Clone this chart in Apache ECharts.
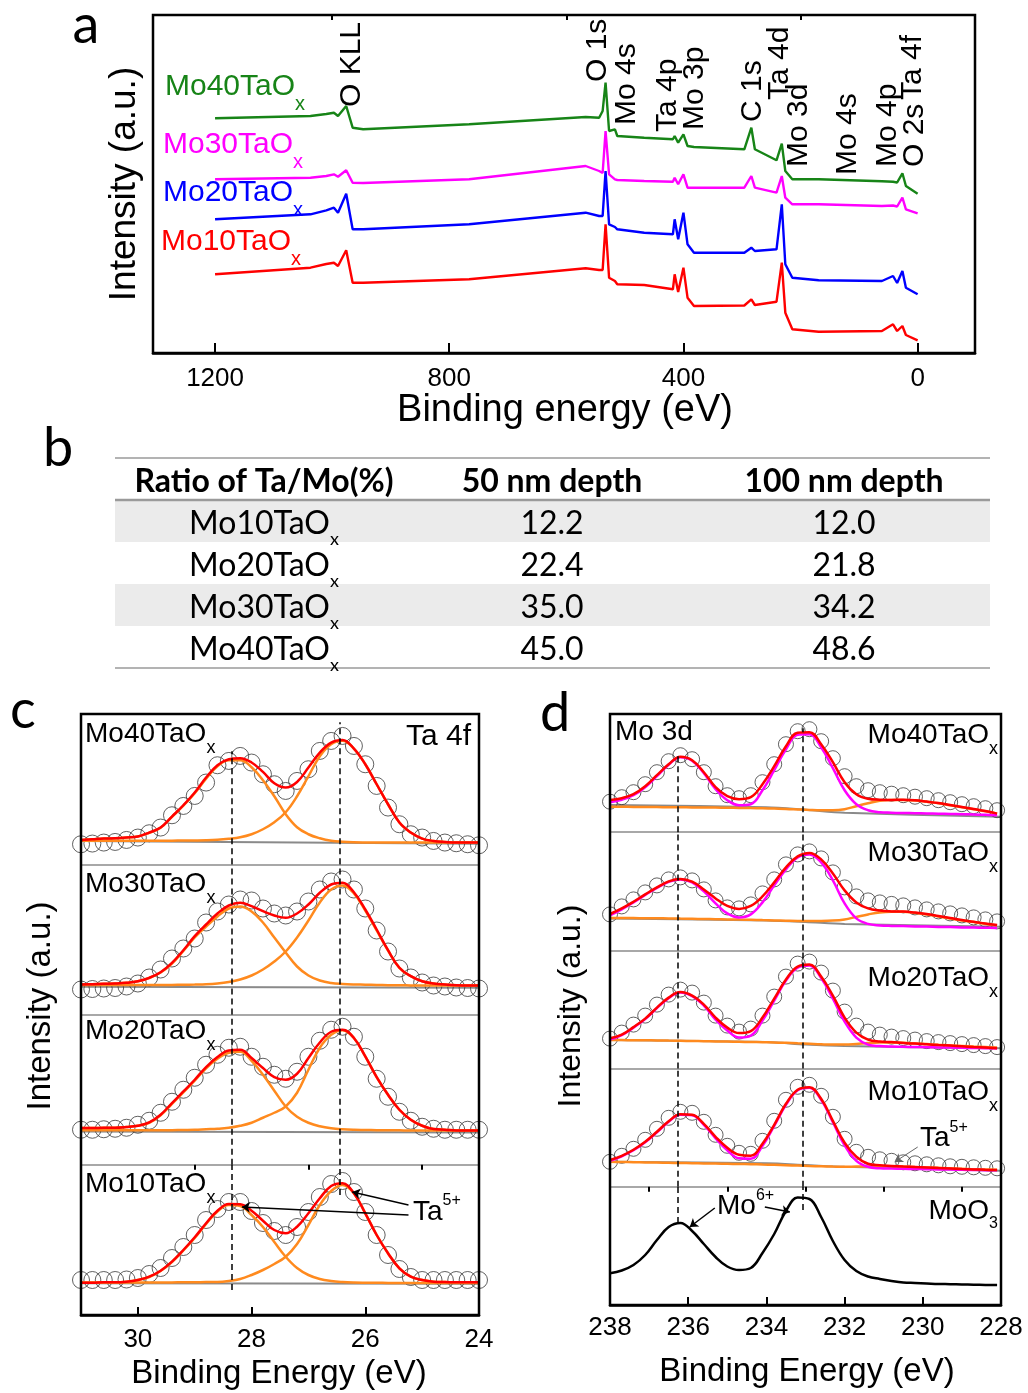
<!DOCTYPE html>
<html><head><meta charset="utf-8">
<script src="https://cdn.jsdelivr.net/npm/echarts/dist/echarts.min.js"></script>
<style>html,body{margin:0;padding:0;background:#fff}#chart{width:1028px;height:1393px}</style>
</head><body><div id="chart"></div>
<script>
// ---------------- DATA ----------------
// Panel a: XPS survey spectra (binding energy in eV, intensity in arbitrary units)
const surveyEnergy = [1200,1037,1010,997,990,976,965,947,766,567,544,538,533,527,517,513,467,418,415,409,400,393,382,296,284,278,241,232,226,214,169,61,42,35,26,20,0];
const surveyMo40 = [234.7,237,239,240.3,237,247,225.3,223.7,228.7,236,235.3,242,270.3,222,223.7,217,215.3,213.7,217,210.3,218.7,207,206,203.7,225.3,203.7,192.7,209.3,182,173.7,173.7,171.7,171.3,170.5,179.7,167,159.3];
const surveyMo30 = [173.7,175.3,177,178.7,176.3,182.7,170.3,170,173.7,187,182,180,222,178.7,173.7,173,172,171.3,175.3,168.7,178.7,165.3,165.3,165.3,177,165.3,160.3,177,155.3,148.7,148.7,147,147.5,146.5,155.3,143.7,139.7];
const surveyMo20 = [133.7,138.7,142.7,145.3,140.3,159.3,123.7,123.7,128.7,140.3,137,137,182,128.7,126,123.7,120.3,118.7,133.7,113.7,140.3,108.7,100.3,100.3,105.3,102,103.7,148.7,88.7,75.3,72.7,72,77,70,82,65.3,58.7];
const surveyMo10 = [78.7,85.3,89,90.3,87,102.7,70.3,70.3,73.7,84.7,83,83,128.7,75.3,72,68.7,68,63.7,78.7,61,85.3,55.3,47,47.5,53.7,48,51.3,90.3,40.3,23.7,21.3,22,28.7,22,27,18,12.7];
const surveyNames = ['Mo40TaO', 'Mo30TaO', 'Mo20TaO', 'Mo10TaO'];
const surveyTicksMajor = [1200, 800, 400, 0];
const surveyTicksMinor = [1000, 600, 200];
const peakLabels = ['O KLL', 'O 1s', 'Mo 4s', 'Ta 4p', 'Mo 3p', 'C 1s', 'Ta 4d', 'Mo 3d', 'Mo 4s', 'Mo 4p', 'O 2s', 'Ta 4f'];

// Panel b: table
const tableHeader = ['Ratio of Ta/Mo(%)', '50 nm depth', '100 nm depth'];
const tableSamples = ['Mo10TaO', 'Mo20TaO', 'Mo30TaO', 'Mo40TaO'];
const ratio50nm = [12.2, 22.4, 35.0, 45.0];
const ratio100nm = [12.0, 21.8, 34.2, 48.6];

// Panel c: Ta 4f
const taEnergy = [31.0,30.8,30.6,30.4,30.2,30.0,29.8,29.6,29.4,29.2,29.0,28.8,28.6,28.4,28.2,28.0,27.8,27.6,27.4,27.2,27.0,26.8,26.6,26.4,26.2,26.0,25.8,25.6,25.4,25.2,25.0,24.8,24.6,24.4,24.2,24.0];
const taRawMo40 = [20,20.7,21.7,22.3,24.3,26.7,31,36.7,49,58.3,68.3,81.7,99,103.3,108.3,101.7,90,80,73.3,83.3,95,113.3,123.3,128.3,118.3,100,78.3,56.7,40,30,26.7,23.3,21.7,21,20,19];
const taFitMo40 = [24.3,25,25.7,26,26.7,27.7,31.7,36.7,47.7,59,71.7,86.7,99,105,106,101.7,92.3,81,76.7,82.3,96.7,111.7,121.7,124.3,115.7,100,80,60,41.7,31.7,25.7,23.3,22.3,21.7,21.7,21.7];
const taP1Mo40 = [24.3,25,25.7,26,26.7,27.7,31.5,36.5,47.5,58.5,71,85.5,98,104,104,97,84,68,50,37,30,26,23.5,22.5,22,21.8,21.7,21.7,21.7,21.7,21.7,21.7,21.7,21.7,21.7,21.7];
const taP2Mo40 = [23.5,23.5,23.5,23.5,23.5,23.5,23.5,23.5,23.6,23.7,23.8,24,24.5,25.5,27,30,35,42,52,68,88,108,120,123.5,115.5,100,80,60,41.7,31.7,25.7,23.3,22.3,21.7,21.7,21.7];
const taBgMo40 = [[31, 23.3], [24, 20.5]];
const taRawMo30 = [25,25.5,26,26.5,28,31,37,45,56,66,76,92,103,110,115,114,106,101,99,103,113,125,133,135,125,106,84,63,46,37,32,29,28,27,26.5,26];
const taFitMo30 = [30,30.3,30.7,31,31.7,33.3,36.7,42.3,51.7,64.3,78.3,90,101,109,111.7,108.3,103.3,99,96.7,101,110,121.7,130,131.7,122.3,105,85,64.3,46.7,38.3,33.3,31,30,29.3,29,29];
const taP1Mo30 = [30,30.3,30.7,31,31.7,33.3,36.5,42,51,63.5,77,88,98,106,108,103,92,77,62,48,39,34,31.5,30.5,30,29.8,29.5,29.3,29.2,29.1,29,29,29,29,29,29];
const taP2Mo30 = [29.5,29.5,29.5,29.5,29.5,29.5,29.5,29.5,29.6,29.7,29.9,30.2,31,32.5,35,39,45,53,63,77,94,112,125,129,121,104,84,64,46.7,38.3,33.3,31,30,29.3,29,29];
const taBgMo30 = [[31, 27.7], [24, 26.7]];
const taRawMo20 = [35,35,35.5,36,37,40,44,52,63,75,87,100,110,117,118,108,98,90,86,93,108,124,135,138,128,108,86,68,53,44,38,36,35,35,35,35];
const taFitMo20 = [36.7,36.7,37,37,37.7,39,42.3,50,61.7,73.3,85,97.7,107.7,114.3,115,106.7,96.7,87.7,85,91,106.7,122.3,133,135,126.7,108.3,87.7,70,55,45,39,35.7,35,34.3,34.3,34.3];
const taP1Mo20 = [36.7,36.7,37,37,37.7,39,42,49.5,61,72.5,84,96.5,106,112,113,104,90,74,58.3,48,42,38.5,36.5,35.5,35,34.8,34.6,34.5,34.4,34.3,34.3,34.3,34.3,34.3,34.3,34.3];
const taP2Mo20 = [34.5,34.5,34.5,34.5,34.5,34.5,34.5,34.5,34.6,34.8,35,35.5,36,37,39,42,47,52,58.3,72,95,117,130,134.5,126.7,108.3,87.7,70,55,45,39,35.7,35,34.3,34.3,34.3];
const taBgMo20 = [[31, 33.3], [24, 32.3]];
const taRawMo10 = [35,35,35,35,35.5,37,41,47,57,68,80,95,106,113,113,104,92,84,80,88,103,118,131,134,123,103,80,60,46,38,35,35,35,35,35,35];
const taFitMo10 = [32.3,32.3,32.7,32.7,33.3,35,38.3,44.3,53.3,65,77.7,91.7,104.3,111,110.7,104.3,94.3,85,81.7,88.3,101.7,116.7,129,131.7,121.7,101.7,80,61.7,46.7,38.3,35,33.3,33,32.7,32.7,32.7];
const taP1Mo10 = [32.3,32.3,32.7,32.7,33.3,35,38,44,53,64.5,77,91,103.5,110,109,100,88,73,58.3,47,40,36,34,33,32.5,32.3,32.2,32.1,32,32,32,32,32,32,32,32];
const taP2Mo10 = [32.5,32.5,32.5,32.5,32.5,32.5,32.5,32.5,32.6,32.7,32.8,32.9,33,34,36,40,45,51,58.3,71,90,110,124,130,121.7,101.7,80,61.7,46.7,38.3,35,33.3,33,32.7,32.7,32.7];
const taBgMo10 = [[31, 31.7], [24, 31.3]];
const taPeakEnergy = [28.35, 26.45];
const taTicksMajor = [30, 28, 26, 24];
const taTicksMinor = [31, 29, 27, 25];

// Panel d: Mo 3d
const moEnergy = [238.0,237.7,237.4,237.1,236.8,236.5,236.2,235.9,235.6,235.3,235.0,234.7,234.4,234.1,233.8,233.5,233.2,232.9,232.6,232.3,232.0,231.7,231.4,231.1,230.8,230.5,230.2,229.9,229.6,229.3,229.0,228.7,228.4,228.1];
const moRawMo40 = [30.5,35,40,48,60,71,77,73,60,46,37,34,37,50,68,88,101,103,91,74,56,46,42,40,38.5,37,35.5,34,32,30,28,26,24,22];
const moFitMo40 = [32.2,34,38,46,57,68,75.5,72,60,45,36,33,35,48,66,86,99.5,100,88,70,50,38,33.5,32.5,32.3,32.4,31.9,30.6,29.1,27.1,25.1,23.1,21.1,18.6];
const moMo6Mo40 = [30,32.5,37,45,56,67.5,75,71.5,59,43,32,27,28,42,62,83,97.5,98,85,64,42,28,22,20,19.5,19.2,19,18.8,18.5,18.2,18,17.7,17.4,17];
const moTaMo40 = [25.5,25.4,25.3,25.2,25.1,25,24.9,24.8,24.7,24.6,24.5,24.3,24.1,23.9,23.6,23.3,22.8,22.3,22,22,23,26,29,31.5,32.2,32.3,31.8,30.5,29,27,25,23,21,18.5];
const moBgMo40 = [[238,27.2],[234,25],[233,22.5],[232,19.5],[228,15.5]];
const moRawMo30 = [36,44,51,58,65,71,73,70,61,50,43,42,46,57,71,86,96,99,92,78,63,54,50,48,46.5,45,43,41,39,37,35,33,31,29];
const moFitMo30 = [36.4,42,48.7,56,63,69,71.4,68.7,61,52,44.5,41.5,44.5,54,68,83,94,97.5,91,77,60,48,42,39.8,39,38.8,37.8,36.3,34.3,32.3,30.3,28.7,26.8,25.3];
const moMo6Mo30 = [35,41,48,55.5,62.5,68.5,71,68,59,47,37,33,36,48,65,81,93,96,88,70,47,32,26.5,25,24.5,24.3,24,23.8,23.5,23.3,23,22.8,22.6,22.5];
const moTaMo30 = [32.5,32.4,32.3,32.2,32.1,32,31.8,31.6,31.4,31.2,31,30.8,30.6,30.3,30,29.7,29.5,29.5,29.5,29.8,31,33.5,36,38,38.7,38.7,37.5,36,34,32,30,28.5,26.5,25];
const moBgMo30 = [[238,32],[234,30],[233,28.5],[232,26.5],[228,23.7]];
const moRawMo20 = [30,36,44,53,64,74,79,76,66,53,43,37,40,53,72,92,105,107,96,78,57,43,37,34,32,30.5,29,27.5,26.5,25.5,24.5,23.5,22.5,21.5];
const moFitMo20 = [30.3,34,41.5,50,61,71,76.5,73,64,51,41,35.5,37.5,51,70,89,102,104,92,73,51,36,29,27,26.5,25.5,25,24.3,23.6,23,22.3,21.6,21,20.3];
const moMo6Mo20 = [29,33.5,41,49.5,60.5,70.5,76,72.5,63,49,38,31,33,48,68,88,101,103,90.5,70,47,31,24,22.5,22,21.8,21.6,21.4,21.2,21,20.8,20.6,20.4,20.2];
const moTaMo20 = [28.6,28.5,28.4,28.3,28.2,28,27.8,27.6,27.4,27.2,27,26.8,26.6,26.4,26.2,25.8,25.3,24.8,24.3,24,24,24.6,25.5,26,26,25.8,25.2,24.5,23.8,23.2,22.6,22,21.5,21];
const moBgMo20 = [[238,28.6],[234,26.5],[233,24],[232,22.5],[228,20.3]];
const moRawMo10 = [25,31,38,47,58,69,75,74,65,52,41,34,33,46,66,87,100,102,91,70,48,35,30,27.5,26,24.5,23.5,22.5,21.5,20.5,20,19.5,19,18.5];
const moFitMo10 = [26.8,31,37,45,55,65.5,72.5,72,63,50,39,32,31,43,62,83,97,99.5,88,66,44,30,23,21.5,20.8,20.2,19.7,19.2,18.7,18.3,17.8,17.4,17,16.7];
const moMo6Mo10 = [26,30.5,36.5,44.5,54.5,65,72,71.5,62,48.5,36.5,28.5,28,41,61,82,96.5,99,87,64.5,41.5,26,20,18.5,18.2,18,17.8,17.6,17.4,17.2,17,16.8,16.6,16.5];
const moTaMo10 = [25,24.8,24.6,24.4,24.2,24,23.8,23.6,23.4,23.2,23,22.8,22.6,22.3,22,21.6,21.2,20.8,20.5,20.2,20,20.2,20.3,20.5,20.5,20.2,19.8,19.4,19,18.6,18,17.6,17.3,17];
const moBgMo10 = [[238,25.1],[234,23.5],[233,21.8],[232,20],[228,16.1]];
const moMoO3 = [31.7,34.5,40,50,65,78,82,74,61,48,38.5,35,37,52,71,94,107.5,106,88,64,45,34,28.5,26,24,22.5,22,21.5,21,20.8,20.5,20.3,20.1,20];
const moPeakEnergy = [236.26, 233.08];
const moTicksMajor = [238, 236, 234, 232, 230, 228];
const moTicksMinor = [237, 235, 233, 231, 229];

// ---------------- STYLE / LAYOUT ----------------
const FONT = '"Liberation Sans", Arial, Helvetica, sans-serif';
const CAL = 'Lato, "Open Sans", sans-serif';
const GREEN = '#178417', MAGENTA = '#ff00ff', BLUE = '#0000ff', RED = '#ff0000';
const ORANGE = '#ff8a1e', GRAY = '#8a8a8a';
const A = {left:153, top:15, width:822, height:338};
const C = {left:81, top:714, width:398, height:601, n:4};
const D = {left:610, top:714, width:391, height:591, n:5};
const cH = C.height / C.n, dH = D.height / D.n;

const zip = (xs, ys) => xs.map((x, i) => [x, ys[i]]);

const grids = [Object.assign({}, A)];
for (let i = 0; i < C.n; i++) grids.push({left:C.left, top:C.top + i * cH, width:C.width, height:cH});
for (let j = 0; j < D.n; j++) grids.push({left:D.left, top:D.top + j * dH, width:D.width, height:dH});
grids.forEach(g => { g.containLabel = false; g.outerBoundsMode = 'none'; g.show = false; });

function xAx(gridIndex, min, max, o) {
  const labels = o.labels;
  return {
    type:'value', gridIndex, min, max, inverse:true,
    splitLine:{show:false},
    axisLine:{show:!!o.line, onZero:false, lineStyle:{color:o.lineColor || '#000', width:o.lineWidth || 2}},
    axisTick:{show:!!o.ticks, inside:true, length:o.tickLen || 8, lineStyle:{color:'#000', width:2}, customValues:o.ticks},
    axisLabel:{show:!!labels, customValues:labels, margin:o.margin || 10, fontSize:o.fontSize || 26, fontFamily:FONT, color:'#000',
      formatter: v => (labels && labels.indexOf(v) >= 0) ? String(v) : ''}
  };
}
const xAxes = [];
xAxes.push(xAx(0, -98, 1306, {line:true, lineWidth:2.5, ticks:surveyTicksMajor, tickLen:10, labels:surveyTicksMajor, margin:13, fontSize:26}));
xAxes.push(xAx(0, -98, 1306, {ticks:surveyTicksMinor, tickLen:5}));
for (let i = 0; i < C.n; i++) {
  const last = i === C.n - 1;
  xAxes.push(xAx(1 + i, 24, 31, last ? {line:true, lineWidth:2.5, ticks:taTicksMajor, tickLen:8, labels:taTicksMajor, margin:12, fontSize:26}
                                     : {line:true, lineColor:'#8c8c8c', lineWidth:1.5}));
}
xAxes.push(xAx(C.n, 24, 31, {ticks:taTicksMinor, tickLen:5}));
for (let j = 0; j < D.n; j++) {
  const last = j === D.n - 1;
  xAxes.push(xAx(1 + C.n + j, 228, 238, last ? {line:true, lineWidth:2.5, ticks:moTicksMajor, tickLen:8, labels:moTicksMajor, margin:10, fontSize:26}
                                            : {line:true, lineColor:'#8c8c8c', lineWidth:1.5}));
}
xAxes.push(xAx(C.n + D.n, 228, 238, {ticks:moTicksMinor, tickLen:5}));

const yAxes = [{type:'value', gridIndex:0, min:0, max:A.height, show:false}];
for (let i = 0; i < C.n; i++) yAxes.push({type:'value', gridIndex:1 + i, min:0, max:cH, show:false});
for (let j = 0; j < D.n; j++) yAxes.push({type:'value', gridIndex:1 + C.n + j, min:0, max:dH, show:false});

const series = [];
// Panel a
[[surveyMo40, GREEN], [surveyMo30, MAGENTA], [surveyMo20, BLUE], [surveyMo10, RED]].forEach(([vals, col]) => {
  series.push({type:'line', xAxisIndex:0, yAxisIndex:0, data:zip(surveyEnergy, vals), symbol:'none', lineStyle:{color:col, width:2.4}, z:3});
});

function dashLines(energies, spans) {
  return {silent:true, symbol:['none','none'], label:{show:false}, lineStyle:{type:[6,4], color:'#000', width:1.5},
    data: energies.map((e, k) => [{coord:[e, spans[k][0]]}, {coord:[e, spans[k][1]]}])};
}
function arrows(list, color, width) {
  return {silent:true, symbol:['none','arrow'], symbolSize:8, label:{show:false}, lineStyle:{type:'solid', color, width},
    data: list.map(a => [{coord:a[0]}, {coord:a[1]}])};
}

// Panel c
const taSets = [
  {raw:taRawMo40, fit:taFitMo40, p1:taP1Mo40, p2:taP2Mo40, bg:taBgMo40, dash:[[0,113],[0,142]]},
  {raw:taRawMo30, fit:taFitMo30, p1:taP1Mo30, p2:taP2Mo30, bg:taBgMo30, dash:[[0,cH],[0,cH]]},
  {raw:taRawMo20, fit:taFitMo20, p1:taP1Mo20, p2:taP2Mo20, bg:taBgMo20, dash:[[0,cH],[0,cH]]},
  {raw:taRawMo10, fit:taFitMo10, p1:taP1Mo10, p2:taP2Mo10, bg:taBgMo10, dash:[[25,cH],[120,cH]],
   arrows:[[[25.24,100],[28.17,108]], [[25.24,110],[26.23,123]]]}
];
taSets.forEach((s, i) => {
  const xi = 2 + i, yi = 1 + i;
  series.push({type:'line', xAxisIndex:xi, yAxisIndex:yi, data:s.bg, symbol:'none', lineStyle:{color:GRAY, width:2}, z:2,
    markLine:dashLines(taPeakEnergy, s.dash)});
  series.push({type:'line', xAxisIndex:xi, yAxisIndex:yi, data:zip(taEnergy, s.p1), smooth:0.4, symbol:'none', lineStyle:{color:ORANGE, width:2.5}, z:3});
  series.push({type:'line', xAxisIndex:xi, yAxisIndex:yi, data:zip(taEnergy, s.p2), smooth:0.4, symbol:'none', lineStyle:{color:ORANGE, width:2.5}, z:3});
  series.push({type:'line', xAxisIndex:xi, yAxisIndex:yi, data:zip(taEnergy, s.fit), smooth:0.4, symbol:'none', lineStyle:{color:RED, width:2.5}, z:4});
  const sc = {type:'scatter', xAxisIndex:xi, yAxisIndex:yi, data:zip(taEnergy, s.raw), symbol:'circle', symbolSize:17,
    itemStyle:{color:'rgba(255,255,255,0)', borderColor:'#3a3a3a', borderWidth:1}, z:2};
  if (s.arrows) sc.markLine = arrows(s.arrows, '#000', 1.3);
  series.push(sc);
});

// Panel d
const moSets = [
  {raw:moRawMo40, fit:moFitMo40, mo:moMo6Mo40, ta:moTaMo40, bg:moBgMo40, dash:[[0,79],[0,104]]},
  {raw:moRawMo30, fit:moFitMo30, mo:moMo6Mo30, ta:moTaMo30, bg:moBgMo30, dash:[[0,dH],[0,dH]]},
  {raw:moRawMo20, fit:moFitMo20, mo:moMo6Mo20, ta:moTaMo20, bg:moBgMo20, dash:[[0,dH],[0,dH]]},
  {raw:moRawMo10, fit:moFitMo10, mo:moMo6Mo10, ta:moTaMo10, bg:moBgMo10, dash:[[0,dH],[0,dH]],
   arrows:[[[230.13,39.8],[230.72,24.8]]], arrowColor:'#666'}
];
moSets.forEach((s, j) => {
  const xi = 2 + C.n + 1 + j, yi = 1 + C.n + j;
  series.push({type:'line', xAxisIndex:xi, yAxisIndex:yi, data:s.bg, smooth:0.3, symbol:'none', lineStyle:{color:GRAY, width:2}, z:2,
    markLine:dashLines(moPeakEnergy, s.dash)});
  series.push({type:'line', xAxisIndex:xi, yAxisIndex:yi, data:zip(moEnergy, s.ta), smooth:0.4, symbol:'none', lineStyle:{color:ORANGE, width:2.5}, z:3});
  series.push({type:'line', xAxisIndex:xi, yAxisIndex:yi, data:zip(moEnergy, s.mo), smooth:0.4, symbol:'none', lineStyle:{color:MAGENTA, width:2.5}, z:3});
  series.push({type:'line', xAxisIndex:xi, yAxisIndex:yi, data:zip(moEnergy, s.fit), smooth:0.4, symbol:'none', lineStyle:{color:RED, width:2.5}, z:4});
  const sc = {type:'scatter', xAxisIndex:xi, yAxisIndex:yi, data:zip(moEnergy, s.raw), symbol:'circle', symbolSize:15,
    itemStyle:{color:'rgba(255,255,255,0)', borderColor:'#3a3a3a', borderWidth:1}, z:2};
  if (s.arrows) sc.markLine = arrows(s.arrows, s.arrowColor, 1);
  series.push(sc);
});
// MoO3 reference
{
  const xi = 2 + C.n + 1 + 4, yi = 1 + C.n + 4;
  series.push({type:'line', xAxisIndex:xi, yAxisIndex:yi, data:zip(moEnergy, moMoO3), smooth:0.4, symbol:'none', lineStyle:{color:'#000', width:2.5}, z:3,
    markLine:dashLines(moPeakEnergy, [[82,dH],[95,dH]])});
  series.push({type:'line', xAxisIndex:xi, yAxisIndex:yi, data:[], symbol:'none',
    markLine:arrows([[[235.32,97],[235.96,78]], [[234.04,98],[233.40,93]]], '#000', 1.5)});
}

// ---------------- GRAPHICS (text, frames, table) ----------------
const G = [];
function T(x, y, text, size, extra) {
  return {type:'text', x, y, z:50, silent:true,
    style:Object.assign({text, fontSize:size, fontFamily:FONT, fill:'#000', align:'left', verticalAlign:'middle'}, extra || {})};
}
function subText(x, y, main, sub, size, subSize, off, color, align, family, isSup) {
  const L = 2 * (off + subSize / 2);
  return {type:'text', x, y, z:50, silent:true,
    style:{text:'{m|' + main + '}{s|' + sub + '}', align:align || 'left', verticalAlign:'middle',
      rich:{m:{fontSize:size, fontFamily:family || FONT, fill:color || '#000', lineHeight:L, verticalAlign:'middle'},
            s:{fontSize:subSize, fontFamily:family || FONT, fill:color || '#000', lineHeight:subSize, verticalAlign:isSup ? 'top' : 'bottom'}}}};
}
function frame(b) {
  return {type:'rect', z:60, silent:true, shape:{x:b.left, y:b.top, width:b.width, height:b.height}, style:{fill:'none', stroke:'#000', lineWidth:2.5}};
}
G.push(frame(A), frame(C), frame(D));

// panel letters
G.push(T(86, 26, 'a', 54, {fontFamily:CAL, align:'center'}));
G.push(T(58, 449, 'b', 54, {fontFamily:CAL, align:'center'}));
G.push(T(23, 711, 'c', 54, {fontFamily:CAL, align:'center'}));
G.push(T(555, 714, 'd', 54, {fontFamily:CAL, align:'center'}));

// panel a texts
G.push(Object.assign(T(125, 184, 'Intensity (a.u.)', 37, {align:'center'}), {rotation:Math.PI / 2}));
G.push(T(565, 411, 'Binding energy (eV)', 38, {align:'center'}));
const surveyLabelPos = [[165, 87], [163, 145], [163, 193], [161, 242]];
const surveyColors = [GREEN, MAGENTA, BLUE, RED];
surveyNames.forEach((n, i) => G.push(subText(surveyLabelPos[i][0], surveyLabelPos[i][1], n, 'x', 30, 20, 17, surveyColors[i])));
const peakLabelPos = [[352,107],[598,82],[627,125],[668,132],[695,130],[753,122],[780,100],[799,167],[848,175],[888,167],[915,167],[913,100]];
peakLabels.forEach((t, i) => G.push(Object.assign(T(peakLabelPos[i][0], peakLabelPos[i][1], t, 30), {rotation:Math.PI / 2})));

// panel b table
const TB = {x1:115, x2:990, top:458, head:500, rowH:42, colX:[264, 552, 844], headY:482, rowY0:524};
G.push({type:'rect', z:5, silent:true, shape:{x:TB.x1, y:TB.head, width:TB.x2 - TB.x1, height:TB.rowH}, style:{fill:'#ebebeb'}});
G.push({type:'rect', z:5, silent:true, shape:{x:TB.x1, y:TB.head + 2 * TB.rowH, width:TB.x2 - TB.x1, height:TB.rowH}, style:{fill:'#ebebeb'}});
[[TB.top, 1.5], [TB.head, 2.5], [TB.head + 4 * TB.rowH, 1.5]].forEach(([y, w]) =>
  G.push({type:'line', z:6, silent:true, shape:{x1:TB.x1, y1:y, x2:TB.x2, y2:y}, style:{stroke:'#9a9a9a', lineWidth:w}}));
tableHeader.forEach((h, k) => G.push(T(TB.colX[k], TB.headY, h, 32, {fontFamily:CAL, fontWeight:'bold', align:'center'})));
tableSamples.forEach((s, r) => {
  const y = TB.rowY0 + r * TB.rowH;
  G.push(subText(TB.colX[0], y, s, 'x', 32, 18, 15, '#000', 'center', CAL));
  G.push(T(TB.colX[1], y, ratio50nm[r].toFixed(1), 32, {fontFamily:CAL, align:'center'}));
  G.push(T(TB.colX[2], y, ratio100nm[r].toFixed(1), 32, {fontFamily:CAL, align:'center'}));
});

// panel c texts
G.push(Object.assign(T(41, 1006, 'Intensity (a.u.)', 33, {align:'center'}), {rotation:Math.PI / 2}));
G.push(T(279, 1374, 'Binding Energy (eV)', 33, {align:'center'}));
const cLabelY = [734, 884, 1031, 1184];
['Mo40TaO', 'Mo30TaO', 'Mo20TaO', 'Mo10TaO'].forEach((n, i) => G.push(subText(85, cLabelY[i], n, 'x', 28, 18, 14)));
G.push(T(471, 737, 'Ta 4f', 30, {align:'right'}));
G.push(subText(413, 1212, 'Ta', '5+', 28, 16, 11, '#000', 'left', FONT, true));

// panel d texts
G.push(Object.assign(T(571, 1006, 'Intensity (a.u.)', 32, {align:'center'}), {rotation:Math.PI / 2}));
G.push(T(807, 1372, 'Binding Energy (eV)', 33, {align:'center'}));
G.push(T(615, 732, 'Mo 3d', 28));
const dLabelY = [735, 853, 978, 1092];
['Mo40TaO', 'Mo30TaO', 'Mo20TaO', 'Mo10TaO'].forEach((n, i) => G.push(subText(998, dLabelY[i], n, 'x', 28, 18, 14, '#000', 'right')));
G.push(subText(998, 1211, 'MoO', '3', 28, 16, 13, '#000', 'right'));
G.push(subText(717, 1206, 'Mo', '6+', 28, 16, 10, '#000', 'left', FONT, true));
G.push(subText(920, 1138, 'Ta', '5+', 28, 16, 10, '#000', 'left', FONT, true));

const chart = echarts.init(document.getElementById('chart'), null, {renderer:'canvas'});
chart.setOption({animation:false, backgroundColor:'#fff', grid:grids, xAxis:xAxes, yAxis:yAxes, series, graphic:{elements:G}});
</script></body></html>
